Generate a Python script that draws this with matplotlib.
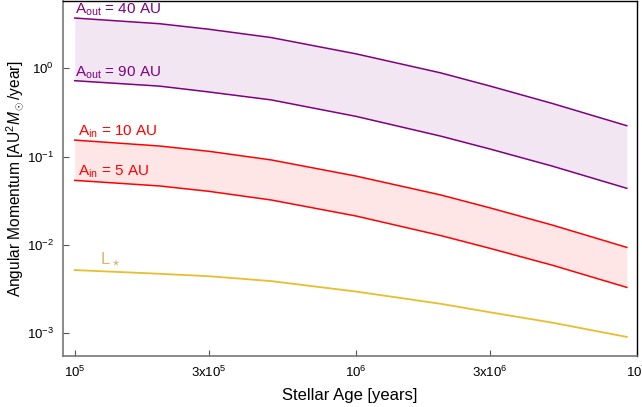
import numpy as np
import matplotlib
matplotlib.use("Agg")
import matplotlib.pyplot as plt
from matplotlib.ticker import FixedLocator, FixedFormatter, NullLocator

plt.rcParams['font.family'] = ['Liberation Sans', 'DejaVu Sans']
plt.rcParams['mathtext.fontset'] = 'custom'
plt.rcParams['mathtext.rm'] = 'Liberation Sans'
plt.rcParams['mathtext.it'] = 'Liberation Sans:italic'
plt.rcParams['mathtext.bf'] = 'Liberation Sans:bold'

# stellar age [years]
age = [1e5, 2e5, 3e5, 5e5, 1e6, 2e6, 3e6, 5e6, 9.2e6]
# angular momentum [AU^2 Msun / year]
aout_40 = [3.71, 3.20, 2.77, 2.23, 1.46, 0.889, 0.630, 0.400, 0.224]
aout_90 = [0.724, 0.629, 0.540, 0.439, 0.286, 0.171, 0.122, 0.0781, 0.0438]
ain_10 = [0.154, 0.132, 0.115, 0.0918, 0.0603, 0.0369, 0.0263, 0.0168, 0.00939]
ain_5 = [0.0539, 0.0466, 0.0405, 0.0323, 0.0213, 0.0128, 0.00916, 0.00590, 0.00331]
l_star = [0.00520, 0.00472, 0.00443, 0.00390, 0.00297, 0.00216, 0.00173, 0.00132, 0.00091]

xticks = [1e5, 3e5, 1e6, 3e6, 1e7]
xticklabels = ['10$^5$', '3x10$^5$', '10$^6$', '3x10$^6$', '10$^7$']
yticks = [1e-3, 1e-2, 1e-1, 1e0]
yticklabels = ['10$^{-3}$', '10$^{-2}$', '10$^{-1}$', '10$^0$']

purple = '#800080'
red = '#FF0000'
gold = '#E8BE2C'

fig = plt.figure(figsize=(6.42, 4.07), dpi=100)
ax = fig.add_axes([0.0974, 0.1253, 0.8948, 0.8722])

ax.fill_between(age, aout_90, aout_40, color='#F2E6F2', lw=0)
ax.fill_between(age, ain_5, ain_10, color='#FFE6E6', lw=0)
ax.plot(age, aout_40, color=purple, lw=1.1)
ax.plot(age, aout_90, color=purple, lw=1.1)
ax.plot(age, ain_10, color=red, lw=1.1)
ax.plot(age, ain_5, color=red, lw=1.1)
ax.plot(age, l_star, color=gold, lw=1.3)

ax.text(1e5, aout_40[0], r'A$_{\rm out}$ = 40 AU', color=purple,
        fontsize=11, ha='left', va='bottom')
ax.text(1e5, aout_90[0], r'A$_{\rm out}$ = 90 AU', color=purple,
        fontsize=11, ha='left', va='bottom')
ax.text(1.03e5, ain_10[0], r'A$_{\rm in}$ = 10 AU', color=red,
        fontsize=11, ha='left', va='bottom')
ax.text(1.03e5, ain_5[0], r'A$_{\rm in}$ = 5 AU', color=red,
        fontsize=11, ha='left', va='bottom')
ax.text(1.23e5, l_star[0] * 1.02, r'L$_\star$', color='#D9B66E',
        fontsize=12, ha='left', va='bottom')

ax.set_xscale('log')
ax.set_yscale('log')
ax.set_xlim(10**4.9566, 1e7)
ax.set_ylim(10**-3.257, 10**0.762)

ax.xaxis.set_major_locator(FixedLocator(xticks))
ax.xaxis.set_major_formatter(FixedFormatter(xticklabels))
ax.xaxis.set_minor_locator(NullLocator())
ax.yaxis.set_major_locator(FixedLocator(yticks))
ax.yaxis.set_major_formatter(FixedFormatter(yticklabels))
ax.yaxis.set_minor_locator(NullLocator())

ax.tick_params(direction='in', length=4, width=0.8, color='#555555',
               labelsize=9.5, pad=6)
for side in ['left', 'bottom']:
    ax.spines[side].set_color('#777777')
    ax.spines[side].set_linewidth(1.2)
for side in ['top', 'right']:
    ax.spines[side].set_color('black')
    ax.spines[side].set_linewidth(1.0)

ax.set_xlabel('Stellar Age [years]', fontsize=12, labelpad=6)
ax.set_ylabel(r'Angular Momentum [AU$^2$$M_\odot$/year]', fontsize=11.2, labelpad=1)

fig.savefig('out.png', dpi=100)
